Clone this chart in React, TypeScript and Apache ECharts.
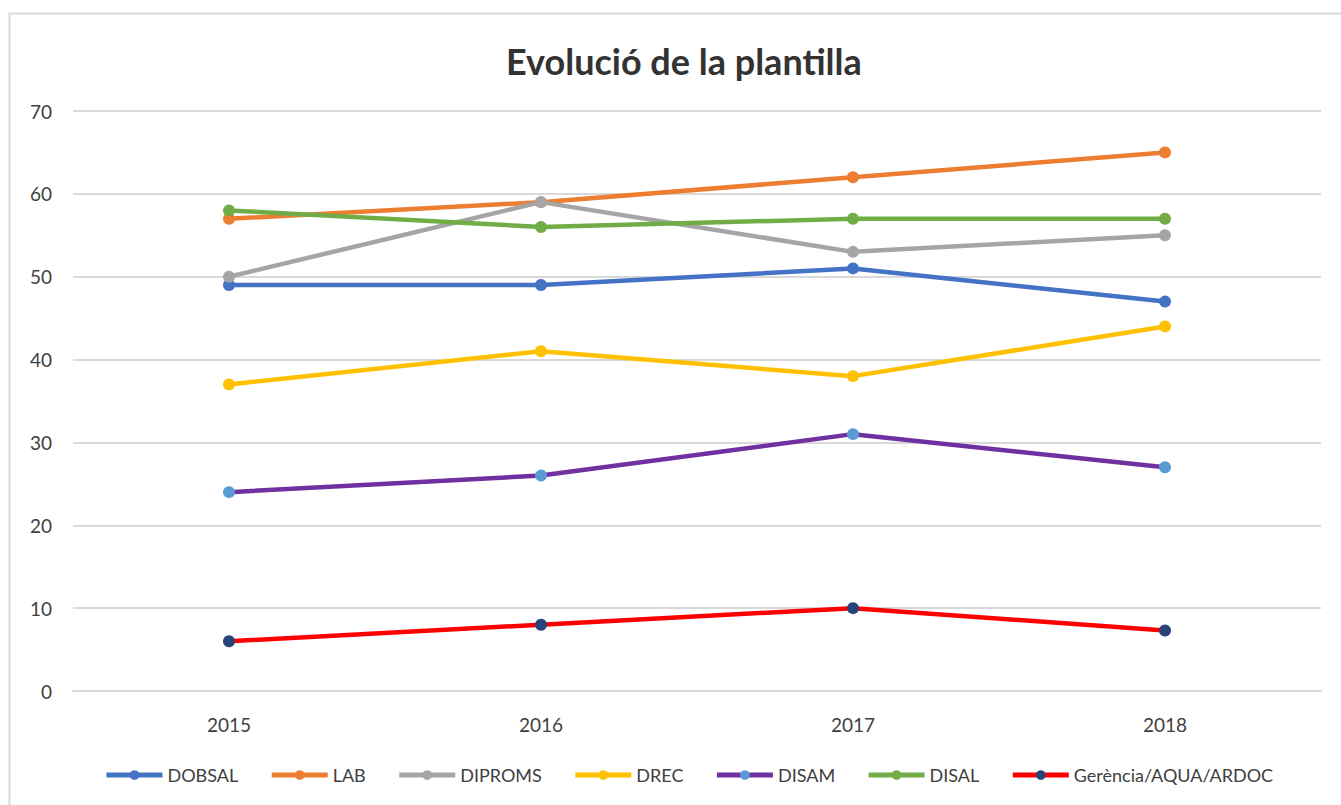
import React, { useEffect, useRef } from "react";
import * as echarts from "echarts";

const years = ["2015", "2016", "2017", "2018"];
const dobsal = [49, 49, 51, 47];
const lab = [57, 59, 62, 65];
const diproms = [50, 59, 53, 55];
const drec = [37, 41, 38, 44];
const disam = [24, 26, 31, 27];
const disal = [58, 56, 57, 57];
const gerencia = [6, 8, 10, 7.3];

const FONT = "Lato";

export default function App() {
  const ref = useRef<HTMLDivElement>(null);
  useEffect(() => {
    if (!ref.current) return;
    const chart = echarts.init(ref.current, null, { renderer: "svg" });
    const mk = (name: string, data: number[], line: string, marker: string) => ({
      name,
      type: "line",
      data,
      symbol: "circle",
      symbolSize: 12,
      lineStyle: { color: line, width: 4.5 },
      itemStyle: { color: marker },
      color: line,
    });
    chart.setOption({
      animation: false,
      backgroundColor: "#ffffff",
      textStyle: { fontFamily: FONT },
      title: {
        text: "Evolució de la plantilla",
        left: 501,
        top: 38,
        textStyle: { fontFamily: FONT, fontSize: 36, fontWeight: "bold", color: "#333333" },
      },
      graphic: [
        {
          type: "rect",
          shape: { x: 9.5, y: 13.5, width: 1340, height: 800 },
          style: { fill: "none", stroke: "#d9d9d9", lineWidth: 2 },
          silent: true,
        },
      ],
      grid: { left: 73, right: 20, top: 111, bottom: 114 },
      legend: {
        bottom: 16,
        left: 99,
        itemWidth: 56,
        itemHeight: 12,
        itemGap: 31,
        lineStyle: { width: 5 },
        textStyle: { fontFamily: FONT, fontSize: 18, color: "#404040" },
        data: ["DOBSAL", "LAB", "DIPROMS", "DREC", "DISAM", "DISAL", "Gerència/AQUA/ARDOC"],
      },
      xAxis: {
        type: "category",
        data: years,
        boundaryGap: true,
        axisLine: { show: true, lineStyle: { color: "#d9d9d9", width: 2 } },
        axisTick: { show: false },
        axisLabel: { color: "#404040", fontSize: 19, margin: 24, fontFamily: FONT },
      },
      yAxis: {
        type: "value",
        min: 0,
        max: 70,
        interval: 10,
        axisLine: { show: false },
        axisTick: { show: false },
        axisLabel: { color: "#404040", fontSize: 19, margin: 21, fontFamily: FONT },
        splitLine: { lineStyle: { color: "#d9d9d9", width: 2 } },
      },
      series: [
        mk("DOBSAL", dobsal, "#4472C4", "#4472C4"),
        mk("LAB", lab, "#ED7D31", "#ED7D31"),
        mk("DIPROMS", diproms, "#A5A5A5", "#A5A5A5"),
        mk("DREC", drec, "#FFC000", "#FFC000"),
        mk("DISAM", disam, "#7030A0", "#5B9BD5"),
        mk("DISAL", disal, "#70AD47", "#70AD47"),
        mk("Gerència/AQUA/ARDOC", gerencia, "#FF0000", "#264478"),
      ],
    });
    return () => chart.dispose();
  }, []);
  return (
    <div
      ref={ref}
      style={{ position: "absolute", left: 0, top: 0, width: 1341, height: 805 }}
    />
  );
}
